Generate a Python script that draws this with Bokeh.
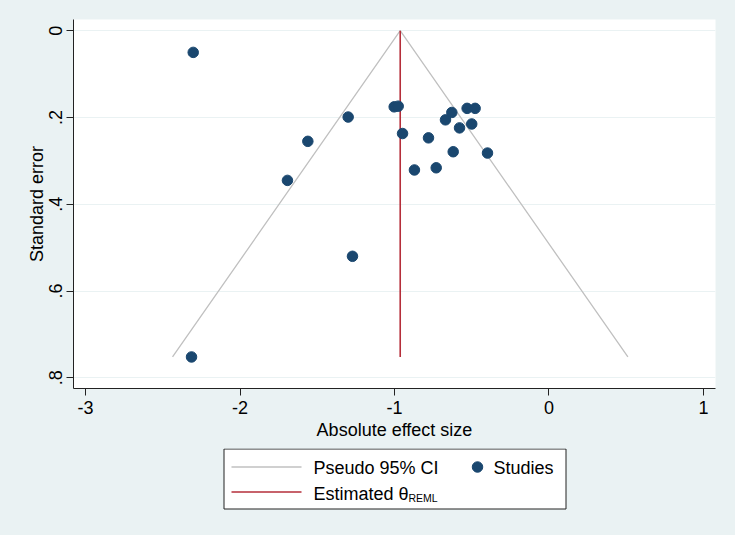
import numpy as np
from bokeh.plotting import figure
from bokeh.models import Range1d, FixedTicker, GlobalInlineStyleSheet
from bokeh.layouts import column
from bokeh.embed import file_html
from bokeh.resources import INLINE
from bokeh.core.properties import value

# ---- data ----
effect = [-2.303, -1.002, -0.976, -1.300, -1.561, -1.693, -1.272, -0.948, -0.780, -0.871,
          -0.730, -0.670, -0.629, -0.620, -0.579, -0.530, -0.478, -0.500, -0.398, -2.314]
std_err = [0.050, 0.1755, 0.174, 0.199, 0.255, 0.345, 0.520, 0.237, 0.247, 0.321,
           0.316, 0.2055, 0.1885, 0.279, 0.224, 0.179, 0.179, 0.215, 0.282, 0.752]
theta_reml = -0.963
x_ticks = [-3, -2, -1, 0, 1]
x_tick_labels = ["-3", "-2", "-1", "0", "1"]
y_ticks = [0, 0.2, 0.4, 0.6, 0.8]
y_tick_labels = ["0", ".2", ".4", ".6", ".8"]
legend_labels = ["Pseudo 95% CI", "Estimated \u03b8", "Studies"]

BG = "#EAF2F3"
NAVY = "#1A476F"
RED = "#B52E3A"
GRAY = "#C0C0C0"
FONT = "Liberation Sans"

se_max = max(std_err)
ci_x = [theta_reml - 1.96 * se_max, theta_reml, theta_reml + 1.96 * se_max]
ci_y = [se_max, 0, se_max]

W, H_MAIN, H_LEG = 735, 448, 87
ML, MR = 73, 20

p = figure(width=W, height=H_MAIN, x_range=Range1d(-3.078, 1.078), y_range=Range1d(0.8247, -0.0258),
           output_backend="svg", toolbar_location=None,
           min_border_left=ML, min_border_right=MR, min_border_top=19, min_border_bottom=H_MAIN - 388)
p.background_fill_color = "white"
p.border_fill_color = BG
p.outline_line_color = None

p.line(ci_x, ci_y, line_color=GRAY, line_width=1.3)
p.line([theta_reml, theta_reml], [0, se_max], line_color=RED, line_width=1.6)
p.scatter(effect, std_err, size=10.5, fill_color=NAVY, line_color=NAVY)

p.xgrid.grid_line_color = None
p.ygrid.grid_line_color = BG
p.ygrid.grid_line_width = 1.2

p.xaxis.ticker = FixedTicker(ticks=x_ticks)
p.yaxis.ticker = FixedTicker(ticks=y_ticks)
p.xaxis.major_label_overrides = dict(zip(x_ticks, x_tick_labels))
p.yaxis.major_label_overrides = dict(zip(y_ticks, y_tick_labels))
p.yaxis.major_label_orientation = "vertical"
p.xaxis.axis_label = "Absolute effect size"
p.yaxis.axis_label = "Standard error"
for ax in (p.xaxis, p.yaxis):
    ax.axis_line_color = "#222222"
    ax.major_tick_line_color = "#222222"
    ax.minor_tick_line_color = None
    ax.major_tick_out = 7
    ax.major_tick_in = 0
    ax.major_label_text_font = FONT
    ax.major_label_text_font_size = "18px"
    ax.major_label_text_color = "black"
    ax.axis_label_text_font = FONT
    ax.axis_label_text_font_size = "18px"
    ax.axis_label_text_font_style = "normal"
    ax.axis_label_text_color = "black"
p.xaxis.major_label_standoff = 5
p.xaxis.axis_label_standoff = 3
p.yaxis.major_label_standoff = 4
p.yaxis.axis_label_standoff = 0

# ---- legend panel: x in page pixels, y in pixels below the main figure ----
leg = figure(width=W, height=H_LEG, x_range=Range1d(ML, W - MR), y_range=Range1d(H_LEG, 0),
             output_backend="svg", toolbar_location=None, x_axis_type=None, y_axis_type=None,
             min_border_left=ML, min_border_right=MR, min_border_top=0, min_border_bottom=0)
leg.outline_line_color = None
leg.background_fill_color = BG
leg.border_fill_color = BG
leg.xgrid.grid_line_color = None
leg.ygrid.grid_line_color = None
leg.quad(left=[223.5], right=[565.5], top=[0.5], bottom=[60.5], fill_color="white",
         line_color="#222222", line_width=1)
leg.line([231, 301], [18.5, 18.5], line_color=GRAY, line_width=1.5)
leg.line([231, 301], [43.5, 43.5], line_color=RED, line_width=1.6)
leg.scatter([477], [18.5], size=10.5, fill_color=NAVY, line_color=NAVY)
leg.text(x=[313, 313, 493], y=[19.5, 45.5, 19.5], text=legend_labels, text_font=value(FONT),
         text_font_size="18px", text_color="black", text_baseline="alphabetic", text_align="left")
leg.text(x=[408], y=[49.5], text=["REML"], text_font=value(FONT), text_font_size="10.5px",
         text_color="black", text_baseline="alphabetic", text_align="left")

layout = column(p, leg, spacing=0)
layout.stylesheets = [GlobalInlineStyleSheet(css="body { background-color: #EAF2F3; }")]

open("out.html", "w").write(file_html(layout, INLINE))
